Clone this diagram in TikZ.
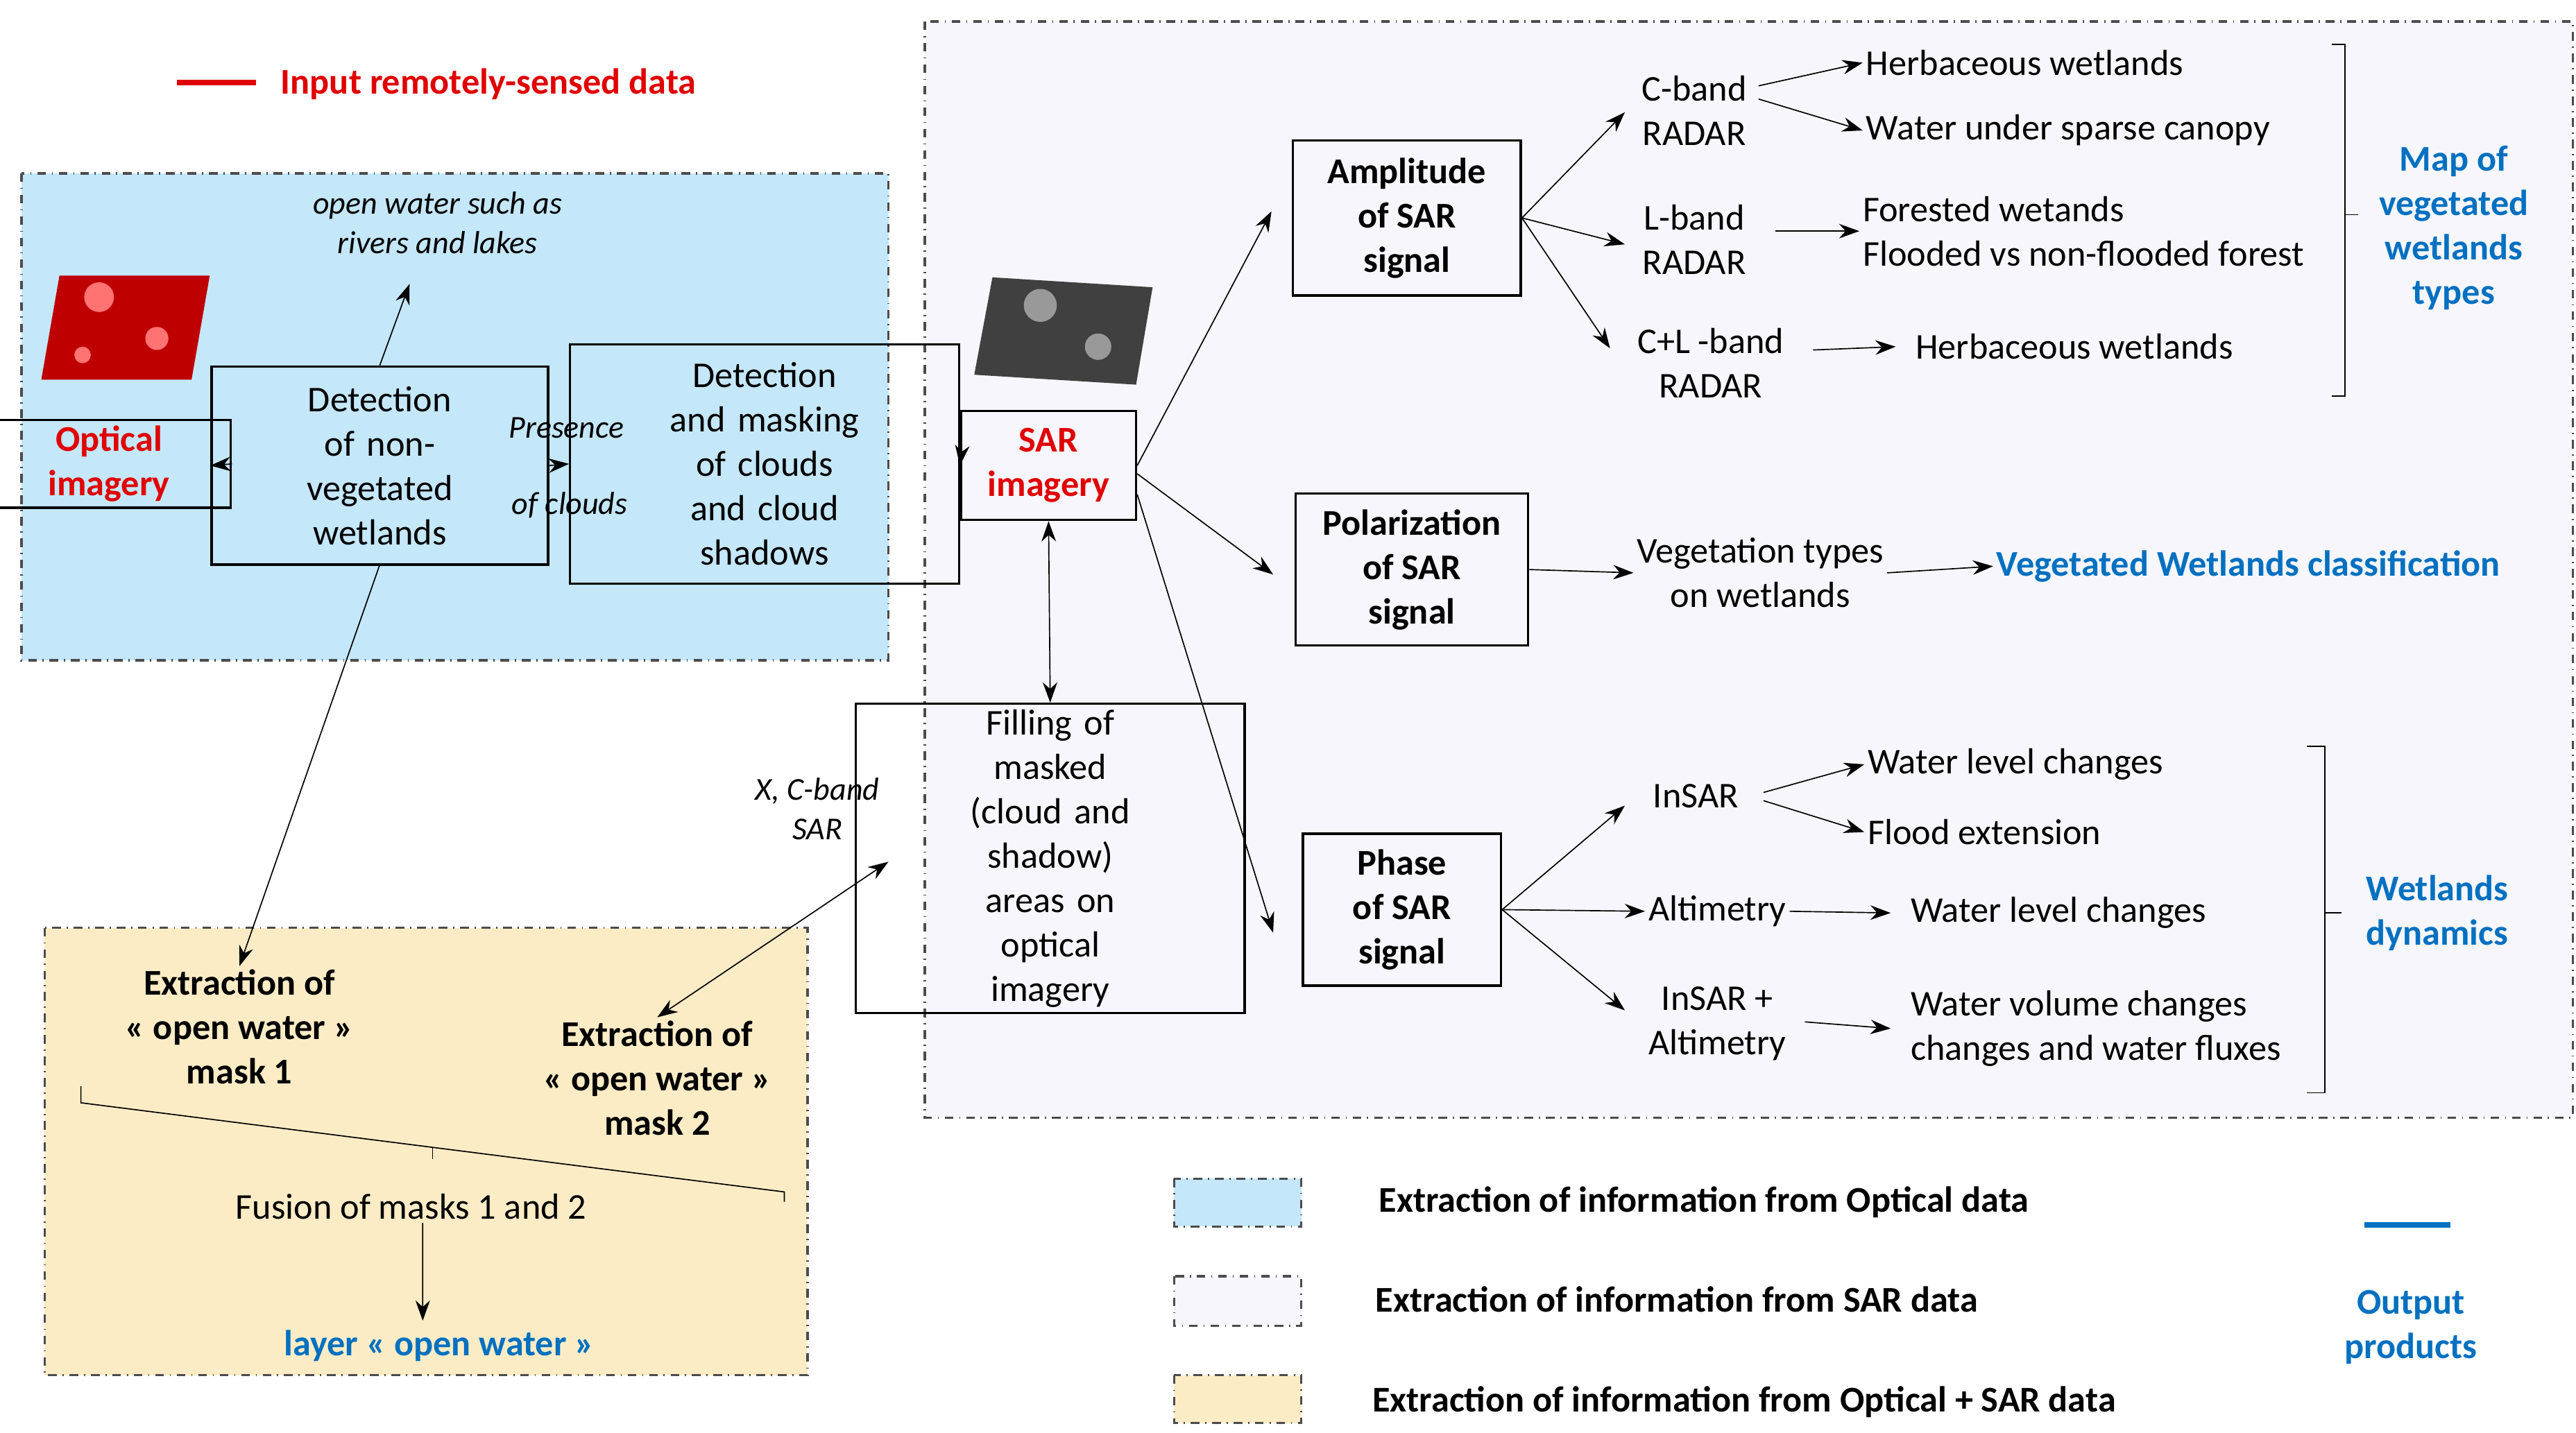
\documentclass[tikz,border=0pt]{standalone}
\usepackage{fontspec}
\setmainfont{Carlito}
\usetikzlibrary{arrows.meta}
\definecolor{inred}{HTML}{E00000}
\definecolor{outblue}{HTML}{0070C0}
\definecolor{optfill}{HTML}{C4E7F9}
\definecolor{sarfill}{HTML}{F6F6FC}
\definecolor{mixfill}{HTML}{FCECC6}
\begin{document}
\begin{tikzpicture}[x=0.02cm,y=-0.02cm,
    font=\fontsize{12.5}{15.3}\selectfont,
    box/.style={draw=black, thick, align=center, inner sep=2pt},
    txt/.style={align=center, inner sep=1pt},
    zone/.style={draw=black!70, dash dot, thick},
    arr/.style={-{Stealth[length=7pt,width=5pt]}, thin},
    darr/.style={{Stealth[length=7pt,width=5pt]}-{Stealth[length=7pt,width=5pt]}, thin},
    ital/.style={txt, font=\fontsize{11}{13.5}\selectfont\itshape},
    outp/.style={txt, text=outblue, font=\fontsize{12.5}{15.3}\selectfont\bfseries}]
  \useasboundingbox (0,0) rectangle (1560,868);

  % zones
  \draw[zone, fill=optfill] (13,105) rectangle (538,400);
  \draw[zone, fill=sarfill] (560,13) rectangle (1558,677);
  \draw[zone, fill=mixfill] (27,562) rectangle (489,833);

  % input legend
  \draw[inred, line width=2pt] (107,50) -- (155,50);
  \node[txt, anchor=west, text=inred, font=\fontsize{12.5}{15.3}\selectfont\bfseries] (inleg) at (168,51) {Input remotely-sensed data};

  % thumbnails
  \fill[red!75!black] (36,167) -- (127,167) -- (116,230) -- (25,230) -- cycle;
  \fill[red!55!white] (60,180) circle (9) (95,205) circle (7) (50,215) circle (5);
  \fill[black!75] (601,168) -- (698,174) -- (688,233) -- (590,227) -- cycle;
  \fill[black!40] (630,185) circle (10) (665,210) circle (8);

  % optical part
  \node[box, text=inred, font=\fontsize{12.5}{15.3}\selectfont\bfseries, minimum width=105\pgflinewidth] (opt) at (66,281) {Optical\\imagery};
  \node[box, text width=112, minimum height=120*0.02cm] (det) at (230,282) {Detection\\of non-\\vegetated\\wetlands};
  \node[box, text width=130, minimum height=145*0.02cm] (mask) at (463,281) {Detection\\and masking\\of clouds\\and cloud\\shadows};
  \node[ital] (pres) at (343,259) {Presence};
  \node[ital] (ofcl) at (345,306) {of clouds};
  \node[ital] (ow) at (265,135) {open water such as\\rivers and lakes};
  \coordinate (owend) at (248,172);
  \draw[arr] (opt.east) -- (det.west);
  \draw[arr] (det.east) -- (mask.west);
  \draw[arr] (det.north) -- (owend);

  % SAR part
  \node[box, text=inred, font=\fontsize{12.5}{15.3}\selectfont\bfseries, minimum width=106*0.02cm, minimum height=66*0.02cm] (sar) at (635,282) {SAR\\imagery};
  \node[box, text width=130] (fill) at (636,520) {Filling of\\masked\\(cloud and\\shadow)\\areas on\\optical\\imagery};
  \draw[arr] (mask.east) -- (sar.west);
  \draw[darr] (sar.south) -- (fill.north);

  \node[box, font=\fontsize{12.5}{15.3}\selectfont\bfseries, minimum width=138*0.02cm, minimum height=94*0.02cm] (amp) at (852,132) {Amplitude\\of SAR\\signal};
  \node[box, font=\fontsize{12.5}{15.3}\selectfont\bfseries, minimum width=141*0.02cm, minimum height=92*0.02cm] (pol) at (855,345) {Polarization\\of SAR\\signal};
  \node[box, font=\fontsize{12.5}{15.3}\selectfont\bfseries, minimum width=120*0.02cm, minimum height=92*0.02cm] (pha) at (849,551) {Phase\\of SAR\\signal};
  \coordinate (ampin) at (770,128);
  \coordinate (polin) at (771,348);
  \coordinate (phain) at (771,565);
  \draw[arr] (sar.east) -- (ampin);
  \draw[arr] ([yshift=-0.1cm]sar.east) -- (polin);
  \draw[arr] ([yshift=-0.35cm]sar.east) -- (phain);

  % amplitude branch
  \node[txt] (cb) at (1026,67) {C-band\\RADAR};
  \node[txt] (lb) at (1026,145) {L-band\\RADAR};
  \node[txt] (clb) at (1036,220) {C+L -band\\RADAR};
  \draw[arr] (amp.east) -- (984,68);
  \draw[arr] (amp.east) -- (984,148);
  \draw[arr] (amp.east) -- (975,211);
  \node[txt, anchor=west] (herb1) at (1128,38) {Herbaceous wetlands};
  \node[txt, anchor=west] (wusc) at (1128,79) {Water under sparse canopy};
  \node[txt, anchor=west, align=left] (forw) at (1126,140) {Forested wetands\\Flooded vs non-flooded forest};
  \node[txt, anchor=west] (herb2) at (1158,210) {Herbaceous wetlands};
  \draw[arr] (1065,52) -- (herb1.west);
  \draw[arr] (1065,60) -- (wusc.west);
  \draw[arr] (1075,140) -- (forw.west);
  \draw[arr] (1098,212) -- ([xshift=-0.2cm]herb2.west);
  \draw[thin] (1412,27) -- (1420,27) -- (1420,240) -- (1412,240);
  \draw[thin] (1420,130) -- (1428,130);
  \node[outp] (mapv) at (1486,138) {Map of\\vegetated\\wetlands\\types};

  % polarization branch
  \node[txt] (vegt) at (1066,347) {Vegetation types\\on wetlands};
  \node[outp, anchor=west] (vwc) at (1207,343) {Vegetated Wetlands classification};
  \draw[arr] (pol.east) -- (vegt.west);
  \draw[arr] (vegt.east) -- (vwc.west);

  % phase branch
  \node[txt] (insar) at (1027,482) {InSAR};
  \node[txt] (alti) at (1040,552) {Altimetry};
  \node[txt] (insal) at (1040,620) {InSAR +\\Altimetry};
  \draw[arr] (pha.east) -- (984,488);
  \draw[arr] (pha.east) -- (alti.west);
  \draw[arr] (pha.east) -- (984,612);
  \node[txt, anchor=west] (wlc1) at (1129,463) {Water level changes};
  \node[txt, anchor=west] (flood) at (1129,504) {Flood extension};
  \node[txt, anchor=west] (wlc2) at (1155,553) {Water level changes};
  \node[txt, anchor=west, align=left] (wvc) at (1155,623) {Water volume changes\\changes and water fluxes};
  \draw[arr] (1068,480) -- (wlc1.west);
  \draw[arr] (1068,485) -- (flood.west);
  \draw[arr] (alti.east) -- ([xshift=-0.2cm]wlc2.west);
  \draw[arr] (1093,619) -- ([xshift=-0.2cm]wvc.west);
  \draw[thin] (1397,452) -- (1408,452) -- (1408,662) -- (1397,662);
  \draw[thin] (1408,553) -- (1418,553);
  \node[outp] (wdyn) at (1476,553) {Wetlands\\dynamics};

  % optical + SAR part
  \node[txt, font=\fontsize{12.5}{15.3}\selectfont\bfseries] (ext1) at (145,622) {Extraction of\\« open water »\\mask 1};
  \node[txt, font=\fontsize{12.5}{15.3}\selectfont\bfseries] (ext2) at (398,653) {Extraction of\\« open water »\\mask 2};
  \node[ital] (xc) at (495,490) {X, C-band\\SAR};
  \coordinate (xcend) at (538,522);
  \draw[arr] (230,342) -- (ext1.north);
  \draw[darr] (ext2.north) -- (xcend);
  \draw[thin] (49,658) -- (49,668) -- (475,722) -- (475,728);
  \draw[thin] (262,695) -- (262,702);
  \node[txt] (fus) at (249,731) {Fusion of masks 1 and 2};
  \node[outp] (layer) at (266,815) {layer « open water »};
  \draw[arr] ([xshift=0.14cm]fus.south) -- (256,800);

  % legend
  \draw[zone, fill=optfill] (711,714) rectangle (788,743);
  \draw[zone, fill=sarfill] (711,773) rectangle (788,803);
  \draw[zone, fill=mixfill] (711,833) rectangle (788,862);
  \node[txt, anchor=west, font=\fontsize{12.5}{15.3}\selectfont\bfseries] (leg1) at (833,728) {Extraction of information from Optical data};
  \node[txt, anchor=west, font=\fontsize{12.5}{15.3}\selectfont\bfseries] (leg2) at (831,787) {Extraction of information from SAR data};
  \node[txt, anchor=west, font=\fontsize{12.5}{15.3}\selectfont\bfseries] (leg3) at (829,849) {Extraction of information from Optical + SAR data};
  \draw[outblue, line width=2pt] (1432,742) -- (1484,742);
  \node[outp] (outleg) at (1460,804) {Output\\products};
\end{tikzpicture}
\end{document}
